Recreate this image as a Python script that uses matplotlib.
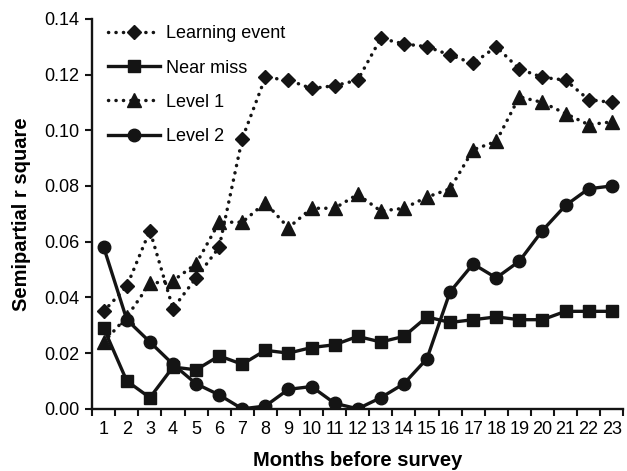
import numpy as np
import matplotlib.pyplot as plt
from matplotlib.ticker import FixedLocator, FormatStrFormatter

plt.rcParams['font.family'] = ['Liberation Sans', 'DejaVu Sans']

# Monate vor der Umfrage
months = np.arange(1, 24)

learning_event = [0.035, 0.044, 0.064, 0.036, 0.047, 0.058, 0.097, 0.119, 0.118, 0.115,
                  0.116, 0.118, 0.133, 0.131, 0.130, 0.127, 0.124, 0.130, 0.122, 0.119,
                  0.118, 0.111, 0.110]
near_miss = [0.029, 0.010, 0.004, 0.015, 0.014, 0.019, 0.016, 0.021, 0.020, 0.022,
             0.023, 0.026, 0.024, 0.026, 0.033, 0.031, 0.032, 0.033, 0.032, 0.032,
             0.035, 0.035, 0.035]
level_1 = [0.024, 0.033, 0.045, 0.046, 0.052, 0.067, 0.067, 0.074, 0.065, 0.072,
           0.072, 0.077, 0.071, 0.072, 0.076, 0.079, 0.093, 0.096, 0.112, 0.110,
           0.106, 0.102, 0.103]
level_2 = [0.058, 0.032, 0.024, 0.016, 0.009, 0.005, 0.000, 0.001, 0.007, 0.008,
           0.002, 0.000, 0.004, 0.009, 0.018, 0.042, 0.052, 0.047, 0.053, 0.064,
           0.073, 0.079, 0.080]

col = '#141414'
dots = (0, (0.05, 2.1))

fig = plt.figure(figsize=(6.27, 4.71), dpi=100)
ax = fig.add_axes([0.147, 0.132, 0.847, 0.828])

ax.plot(months, learning_event, color=col, lw=2.5, ls=dots, dash_capstyle='round',
        marker='D', ms=7.5, mec=col, mfc=col, label='Learning event')
ax.plot(months, near_miss, color=col, lw=2.4, ls='-',
        marker='s', ms=9, mec=col, mfc=col, label='Near miss')
ax.plot(months, level_1, color=col, lw=2.5, ls=dots, dash_capstyle='round',
        marker='^', ms=10, mec=col, mfc=col, label='Level 1')
ax.plot(months, level_2, color=col, lw=2.4, ls='-',
        marker='o', ms=9, mec=col, mfc=col, label='Level 2')

ax.set_xlim(0.5, 23.5)
ax.set_ylim(0, 0.14)
ax.set_yticks(np.arange(0, 0.141, 0.02))
ax.yaxis.set_major_formatter(FormatStrFormatter('%.2f'))

# Striche zwischen den Kategorien, Beschriftung in der Mitte
ax.xaxis.set_major_locator(FixedLocator(np.arange(0.5, 24, 1)))
ax.xaxis.set_minor_locator(FixedLocator(months))
ax.set_xticklabels([])
ax.set_xticklabels([str(m) for m in months], minor=True)
ax.tick_params(axis='x', which='minor', length=0, pad=9, labelsize=13)
ax.tick_params(axis='x', which='major', length=5, width=1.5, direction='out', color=col)
ax.tick_params(axis='y', length=5, width=1.5, direction='out', labelsize=13, color=col, pad=4)

for s in ['top', 'right']:
    ax.spines[s].set_visible(False)
for s in ['left', 'bottom']:
    ax.spines[s].set_linewidth(1.7)
    ax.spines[s].set_color(col)

ax.set_xlabel('Months before survey', fontsize=14.5, fontweight='bold', labelpad=9)
ax.set_ylabel('Semipartial r square', fontsize=14.5, fontweight='bold', labelpad=10)

ax.legend(loc='upper left', bbox_to_anchor=(0.03, 0.983), frameon=False, fontsize=13,
          borderpad=0, borderaxespad=0, handlelength=2.9, handletextpad=0.3,
          labelspacing=0.95, numpoints=1)

fig.savefig('out.png', dpi=100)
